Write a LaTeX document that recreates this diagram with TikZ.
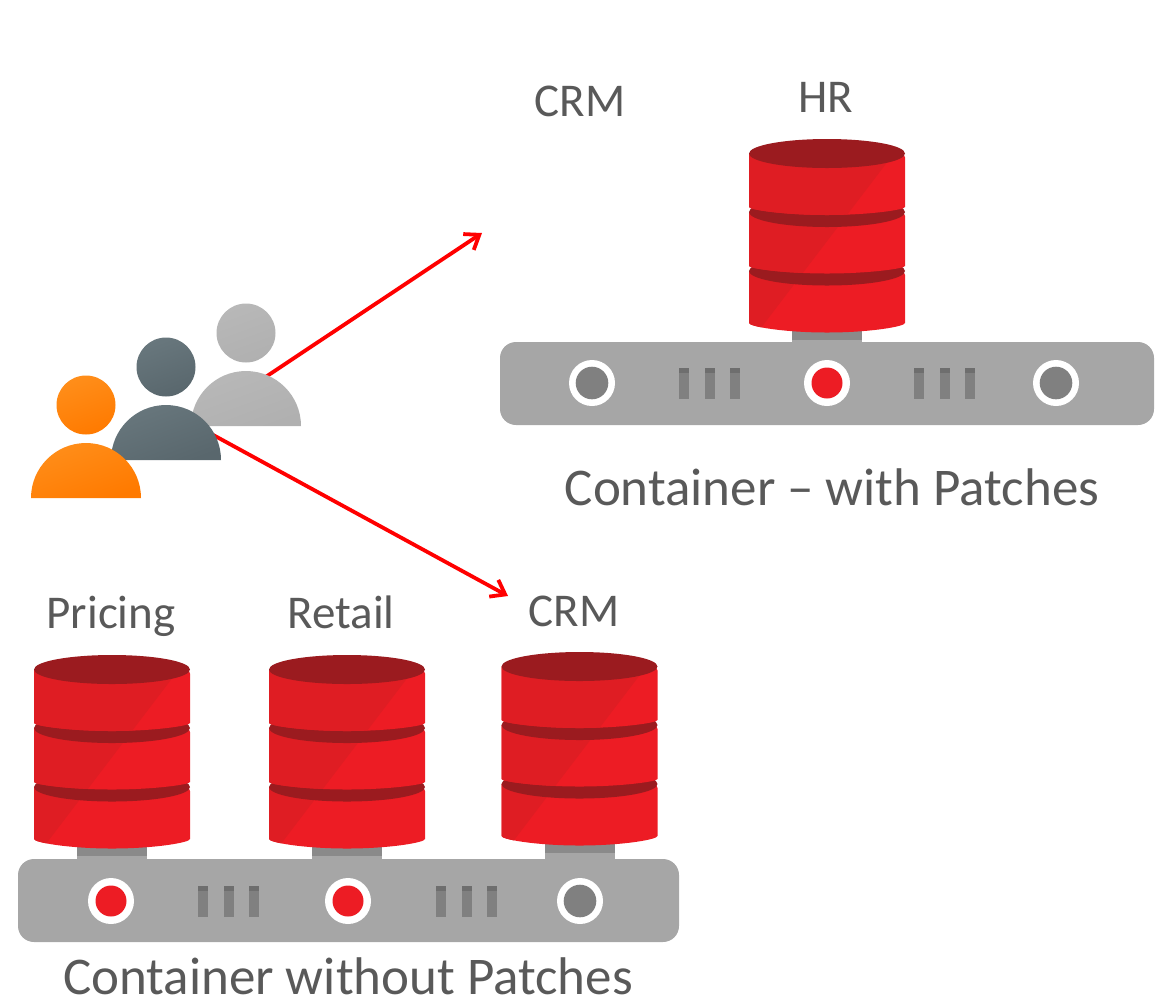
\documentclass[tikz,border=0pt]{standalone}
\usepackage{fontspec}
\setmainfont{Carlito}
\usetikzlibrary{arrows.meta}
\definecolor{dblight}{HTML}{ED1C24}
\definecolor{dbdark}{HTML}{DF1D23}
\definecolor{dbband}{HTML}{9B1B1F}
\definecolor{plat}{HTML}{A6A6A6}
\definecolor{platdark}{HTML}{808080}
\definecolor{bartop}{HTML}{6E6E6E}
\definecolor{stub}{HTML}{8A8A8A}
\definecolor{txt}{HTML}{595959}
\definecolor{graytop}{HTML}{B8B8B8}
\definecolor{graybot}{HTML}{B0B0B0}
\definecolor{slatetop}{HTML}{68777D}
\definecolor{slatebot}{HTML}{59676D}
\definecolor{orangetop}{HTML}{FF8E1A}
\definecolor{orangebot}{HTML}{FF7A00}
\tikzset{
  bigtext/.style={text=txt,font=\fontsize{53}{53}\selectfont,inner sep=0pt,anchor=base},
  smalltext/.style={text=txt,font=\fontsize{47}{47}\selectfont,inner sep=0pt,anchor=base},
  flow/.style={draw=red,line width=3.8pt,-{Straight Barb[length=13pt,width=19pt,line width=3.8pt]}},
}
% disc: top-centre y, side bottom y, bottom arc radius
\newcommand{\dbdisc}[3]{%
  \begin{scope}
    \clip (-78,#1) [rounded corners=4pt] -- (-78,#2) arc[start angle=180,end angle=0,x radius=78,y radius=#3] -- (78,#1) [sharp corners] -- cycle;
    \fill[dblight] (-80,#1-16) rectangle (80,#2+#3+2);
    \fill[dbdark] (-108,383) -- (170,18) -- (-140,18) -- (-140,383) -- cycle;
  \end{scope}
}
% database: centre x, y shift relative to the HR database
\newcommand{\dbcyl}[2]{%
  \begin{scope}[shift={(#1,#2)}]
    \fill[plat] (-35,320) rectangle (35,350);
    \fill[stub] (-35,320) rectangle (35,339.5);
    \dbdisc{271}{319}{13.5}
    \fill[dbband] (0,271) ellipse[x radius=78,y radius=14.5];
    \dbdisc{212}{262}{11.5}
    \fill[dbband] (0,212) ellipse[x radius=78,y radius=15];
    \dbdisc{153.5}{203}{12}
    \fill[dbband] (0,153.5) ellipse[x radius=78,y radius=14.5];
  \end{scope}
}
\newcommand{\platdot}[4]{%
  \fill[white] (#1,#2) circle[radius=23];
  \fill[#3] (#1,#2) circle[radius=#4];
}
\newcommand{\platbars}[2]{%
  \begin{scope}[shift={(#1,#2)}]
    \foreach \bx in {0,25.5,51}{
      \fill[platdark] (\bx,-15.5) rectangle (\bx+10.3,15.5);
      \fill[bartop] (\bx,-15.5) rectangle (\bx+10.3,-10);
    }
  \end{scope}
}
\newcommand{\person}[4]{%
  \shade[top color=#3,bottom color=#4,shading angle=20] (#1,#2-93) circle[radius=29.5];
  \shade[top color=#3,bottom color=#4,shading angle=20] (#1-55,#2) arc[start angle=180,end angle=360,radius=55] -- cycle;
}
\begin{document}
\begin{tikzpicture}[x=1pt,y=-1pt]
\useasboundingbox (0,0) rectangle (1166,997);

% arrows lie behind the people
\coordinate (srcA) at (246,390);
\coordinate (dstA) at (482,233);
\coordinate (srcB) at (162,407);
\coordinate (dstB) at (508,596);
\draw[flow] (srcA) -- (dstA);
\draw[flow] (srcB) -- (dstB);

% people
\person{246}{426}{graytop}{graybot}
\person{166}{460}{slatetop}{slatebot}
\person{86}{498}{orangetop}{orangebot}

% upper container
\dbcyl{827}{0}
\fill[plat,rounded corners=16pt] (500,342) rectangle (1154,425);
\platdot{592}{383}{platdark}{16.3}
\platdot{827}{383}{dblight}{15.5}
\platdot{1056}{383}{platdark}{16.3}
\platbars{679}{383}
\platbars{914}{383}

% lower container
\dbcyl{112}{516}
\dbcyl{347}{516}
\dbcyl{579.5}{513}
\fill[plat,rounded corners=16pt] (18,859) rectangle (679,942);
\platdot{111}{901}{dblight}{15.5}
\platdot{348}{901}{dblight}{15.5}
\platdot{580}{901}{platdark}{16.3}
\platbars{198}{901}
\platbars{436}{901}

% labels
\node[smalltext] (crmtop) at (580,116) {CRM};
\node[smalltext] (hr) at (826,112) {HR};
\node[bigtext] (withp) at (832,505) {Container – with Patches};
\node[smalltext] (pricing) at (111,628) {Pricing};
\node[smalltext] (retail) at (341,628) {Retail};
\node[smalltext] (crmlow) at (574,626) {CRM};
\node[bigtext] (withoutp) at (348,994) {Container without Patches};
\end{tikzpicture}
\end{document}
